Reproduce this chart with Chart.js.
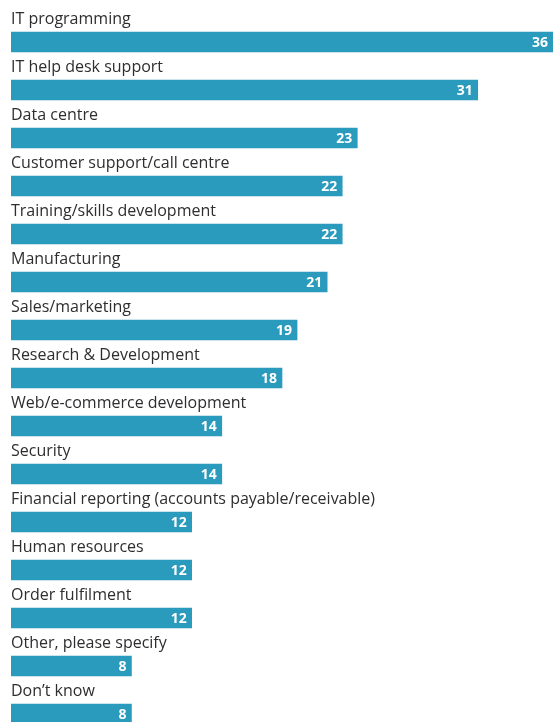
<!DOCTYPE html>
<html>
<head>
<meta charset="utf-8">
<script src="https://cdn.jsdelivr.net/npm/chart.js@4/dist/chart.umd.min.js"></script>
<style>
  html, body { margin: 0; padding: 0; background: #ffffff; overflow: hidden; }
  #wrap { width: 553px; height: 738px; }
</style>
</head>
<body>
<div id="wrap"><canvas id="chart" width="553" height="738"></canvas></div>
<script>
// Share of respondents by function
const categories = [
  'IT programming',
  'IT help desk support',
  'Data centre',
  'Customer support/call centre',
  'Training/skills development',
  'Manufacturing',
  'Sales/marketing',
  'Research & Development',
  'Web/e-commerce development',
  'Security',
  'Financial reporting (accounts payable/receivable)',
  'Human resources',
  'Order fulfilment',
  'Other, please specify',
  'Don\u2019t know'
];
const values = [36, 31, 23, 22, 22, 21, 19, 18, 14, 14, 12, 12, 12, 8, 8];

const BAR_COLOR = '#2a9abd';
const LABEL_FONT = '"Open Sans", sans-serif';

// Category name above each bar, value inside the bar's right end
const barLabels = {
  id: 'barLabels',
  afterDatasetsDraw(chart) {
    const ctx = chart.ctx;
    const meta = chart.getDatasetMeta(0);
    ctx.save();
    meta.data.forEach((bar, i) => {
      const top = bar.y - bar.height / 2;
      ctx.font = '16px ' + LABEL_FONT;
      ctx.fillStyle = '#2e2e2e';
      ctx.textAlign = 'left';
      ctx.textBaseline = 'alphabetic';
      ctx.fillText(chart.data.labels[i], chart.chartArea.left, top - 8);

      ctx.font = 'bold 14px ' + LABEL_FONT;
      ctx.fillStyle = '#ffffff';
      ctx.textAlign = 'right';
      ctx.textBaseline = 'middle';
      ctx.fillText(String(chart.data.datasets[0].data[i]), bar.x - 5, bar.y + 1);
    });
    ctx.restore();
  }
};

new Chart(document.getElementById('chart'), {
  type: 'bar',
  data: {
    labels: categories,
    datasets: [{
      data: values,
      backgroundColor: BAR_COLOR,
      borderWidth: 0,
      barThickness: 20
    }]
  },
  options: {
    indexAxis: 'y',
    responsive: false,
    animation: false,
    layout: { padding: { left: 11, right: 0, top: 18, bottom: 0 } },
    plugins: {
      legend: { display: false },
      tooltip: { enabled: false }
    },
    scales: {
      x: { display: false, min: 0, max: 36 },
      y: { display: false, offset: true }
    }
  },
  plugins: [barLabels]
});
</script>
</body>
</html>
